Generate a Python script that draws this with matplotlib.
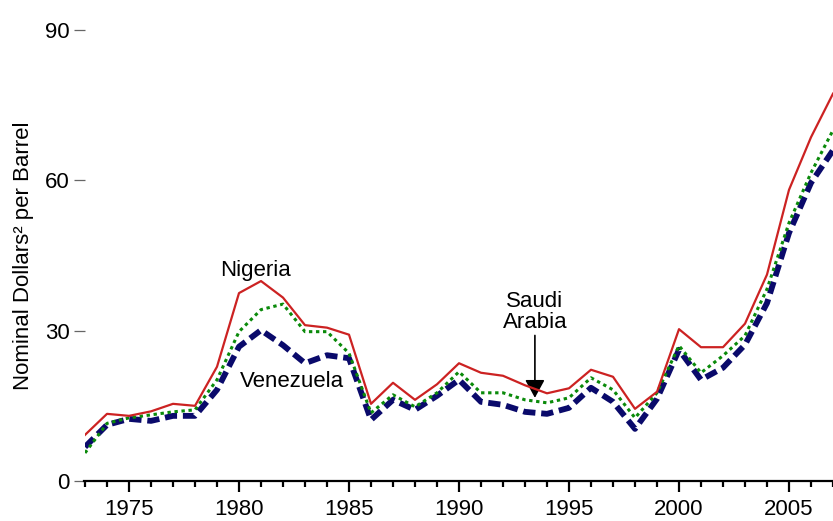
import matplotlib
matplotlib.use("Agg")
import matplotlib.pyplot as plt
from matplotlib.ticker import MultipleLocator

years = list(range(1973, 2008))

nigeria = [9.2, 13.4, 13.0, 13.9, 15.4, 15.0, 22.8, 37.5, 39.9, 36.6, 31.1, 30.6, 29.2,
           15.4, 19.6, 16.2, 19.3, 23.5, 21.6, 21.0, 19.1, 17.5, 18.5, 22.2, 20.8, 14.4,
           17.8, 30.3, 26.7, 26.7, 31.4, 41.2, 58.1, 68.6, 77.3]

saudi = [5.6, 11.5, 12.6, 13.2, 13.8, 14.2, 20.2, 29.8, 34.2, 35.3, 29.8, 29.8, 25.5,
         13.6, 17.2, 14.8, 17.6, 21.8, 17.6, 17.6, 16.2, 15.6, 16.6, 20.6, 18.2, 12.6,
         17.6, 27.0, 21.6, 25.0, 29.0, 38.3, 51.5, 61.5, 70.0]

venezuela = [6.8, 11.2, 12.4, 12.0, 13.0, 13.0, 18.2, 26.8, 30.1, 27.1, 23.5, 25.1, 24.5,
             12.2, 16.2, 14.2, 17.0, 20.2, 15.8, 15.2, 13.8, 13.4, 14.6, 18.6, 15.8, 10.4,
             16.4, 26.2, 20.2, 22.6, 27.2, 35.5, 49.5, 59.5, 66.0]

yticks = [0, 30, 60, 90]
ylabel = "Nominal Dollars² per Barrel"

plt.rcParams['font.family'] = ['Liberation Sans', 'DejaVu Sans']
FS = 16

fig = plt.figure(figsize=(8.33, 5.21), dpi=100)
ax = fig.add_axes([85/833, 40/521, 1 - 85/833, 451/521])

ax.plot(years, venezuela, color='#0a0a6b', lw=4.2, dashes=(2.1, 1.0), solid_capstyle='butt',
        dash_capstyle='butt', zorder=2)
ax.plot(years, saudi, color='#0a8a0a', lw=2.2, dashes=(1.1, 1.2), zorder=3)
ax.plot(years, nigeria, color='#cc2222', lw=1.6, zorder=4)

ax.set_xlim(1973, 2007)
ax.set_ylim(0, 90)

ax.xaxis.set_major_locator(MultipleLocator(5))
ax.xaxis.set_minor_locator(MultipleLocator(1))
ax.set_yticks(yticks)

for s in ['top', 'right', 'left']:
    ax.spines[s].set_visible(False)
ax.spines['bottom'].set_linewidth(1.6)
ax.spines['bottom'].set_bounds(1972.95, 2007)

ax.tick_params(axis='x', which='major', direction='out', length=8, width=1.6,
               labelsize=FS, pad=5)
ax.tick_params(axis='x', which='minor', direction='out', length=4.5, width=1.6)
ax.tick_params(axis='y', which='major', direction='out', length=8, width=0.9,
               color='#666666', labelsize=FS, pad=3)

ax.set_ylabel(ylabel, fontsize=FS, labelpad=8)

ax.text(1980.77, 42.1, "Nigeria", fontsize=FS, ha='center', va='center')
ax.text(1982.4, 19.8, "Venezuela", fontsize=FS, ha='center', va='center')
ax.annotate("Saudi\nArabia", xy=(1993.45, 16.6), xytext=(1993.45, 29.6),
            fontsize=FS, ha='center', va='bottom', linespacing=1.0,
            arrowprops=dict(arrowstyle='-|>,head_length=0.55,head_width=0.3',
                            color='black', lw=1.2,
                            mutation_scale=20, shrinkA=0, shrinkB=0))

fig.savefig("out.png", dpi=100)
